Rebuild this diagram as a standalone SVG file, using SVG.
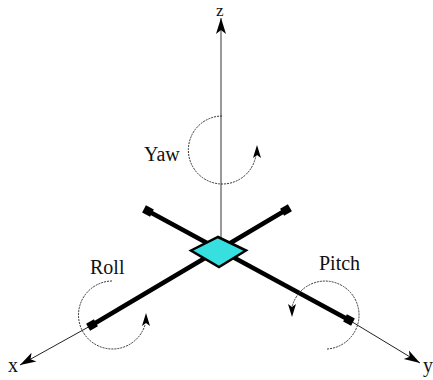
<svg xmlns="http://www.w3.org/2000/svg" width="433" height="380" viewBox="0 0 433 380">
<style>
text{font-family:"Liberation Serif","Times New Roman",serif;font-size:20px;fill:#111}
.arm{stroke:#000;stroke-width:4.500;fill:none}
.axis{stroke:#222;stroke-width:1;fill:none}
.zaxis{stroke:#777;stroke-width:1.500;fill:none}
.rot{stroke:#333;stroke-width:1;stroke-dasharray:2 1;fill:none}
.end{fill:#000}
</style>
<defs>
<marker id="head" markerUnits="userSpaceOnUse" markerWidth="18" markerHeight="12" refX="16" refY="6" orient="auto"><path d="M0 1 L16 6 L0 11 L4 6 Z" fill="#000"/></marker>
</defs>
<g id="connectors">
<line class="zaxis" x1="221" y1="238" x2="221" y2="18" marker-end="url(#head)"/>
<line class="axis" x1="92" y1="325" x2="20" y2="365" marker-end="url(#head)"/>
<line class="axis" x1="349" y1="320" x2="420" y2="363" marker-end="url(#head)"/>
<line class="arm" x1="148" y1="211" x2="349" y2="320"/>
<line class="arm" x1="286" y1="210" x2="92" y2="325"/>
<path class="rot" d="M222 116 A34 34 0 1 0 256 155"/>
<path class="rot" d="M112 281 A34 34 0 1 0 145 325"/>
<path class="rot" d="M327 349 A34 34 0 1 0 292 307"/>
<path class="end" d="M257 145 L261 158 L257 155 L253 158 Z"/>
<path class="end" d="M146 313 L150 326 L146 323 L142 326 Z"/>
<path class="end" d="M292 317 L288 304 L292 307 L296 304 Z"/>
</g>
<g id="motor-nw"><rect class="end" x="-4.500" y="-4" width="9" height="8" transform="translate(148 211) rotate(28)"/></g>
<g id="motor-ne"><rect class="end" x="-4.500" y="-4" width="9" height="8" transform="translate(286 210) rotate(-30)"/></g>
<g id="motor-sw"><rect class="end" x="-4.500" y="-4" width="9" height="8" transform="translate(92 325) rotate(-30)"/></g>
<g id="motor-se"><rect class="end" x="-4.500" y="-4" width="9" height="8" transform="translate(349 320) rotate(28)"/></g>
<g id="body"><path d="M191 250.500 L218 237 L246 250.500 L219 267 Z" fill="#38dfdf" stroke="#000" stroke-width="2.500"/></g>
<g id="labels">
<text x="216" y="15.500" style="font-size:17px">z</text>
<text x="144" y="161">Yaw</text>
<text x="90" y="274">Roll</text>
<text x="319" y="270">Pitch</text>
<text x="8" y="372">x</text>
<text x="423" y="372">y</text>
</g>
</svg>
